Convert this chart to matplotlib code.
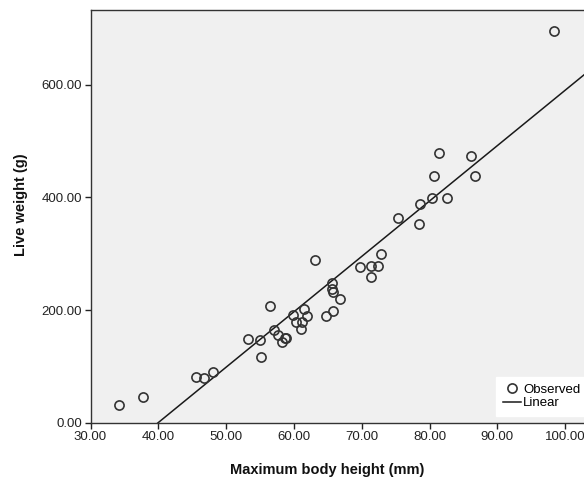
import matplotlib
matplotlib.use("Agg")
import matplotlib.pyplot as plt
import numpy as np

plt.rcParams['font.family'] = ['Liberation Sans', 'DejaVu Sans']

# Data
body_height = [34.2, 37.7, 45.6, 46.7, 48.1, 53.3, 55.0, 55.1, 56.5, 57.1,
               57.7, 58.3, 58.7, 58.9, 59.8, 60.3, 61.15, 61.5, 62.0, 61.1,
               64.7, 65.7, 66.8, 65.6, 65.6, 65.7, 63.1, 69.7, 71.3, 72.4,
               72.8, 71.3, 75.4, 78.45, 78.6, 80.3, 82.6, 80.6, 81.4, 86.1,
               86.7, 98.4]
live_weight = [31, 46, 82, 80, 90, 149, 146, 117, 208, 165,
               156, 144, 151, 150, 191, 179, 179, 201, 189, 166,
               189, 199, 219, 248, 238, 232, 289, 276, 278, 278,
               299, 259, 363, 353, 388, 398, 398, 438, 478, 473,
               438, 696]
fit_slope = 9.83
fit_intercept = -393.0
x_ticks = [30, 40, 50, 60, 70, 80, 90, 100]
y_ticks = [0, 200, 400, 600]

fig = plt.figure(figsize=(5.84, 4.80), dpi=100)
W, H = 584, 480
left_px, bottom_px, top_px = 90.5, 422.7, 10
xlim = (30, 105)
ylim = (0, 732.5)
width_px = (xlim[1] - xlim[0]) * 6.78
ax = fig.add_axes([left_px / W, (H - bottom_px) / H, width_px / W, (bottom_px - top_px) / H])
ax.set_facecolor('#f0f0f0')

xs = np.array(xlim)
ax.plot(xs, fit_intercept + fit_slope * xs, color='#1a1a1a', lw=1.1, label='Linear', zorder=2)
ax.plot(body_height, live_weight, linestyle='none', marker='o', markersize=6.6,
        markerfacecolor='none', markeredgecolor='#333333', markeredgewidth=1.2,
        label='Observed', zorder=3)

ax.set_xlim(*xlim)
ax.set_ylim(*ylim)
ax.set_xticks(x_ticks)
ax.set_yticks(y_ticks)
ax.set_xticklabels([f"{v:.2f}" for v in x_ticks])
ax.set_yticklabels([f"{v:.2f}" for v in y_ticks])
ax.tick_params(direction='out', length=4, width=1, color='#222222',
               labelsize=9.5, labelcolor='#222222', pad=2)
for s in ax.spines.values():
    s.set_color('#333333')
    s.set_linewidth(1.0)

fig.text(327 / W, 1 - 470 / H, 'Maximum body height (mm)', ha='center', va='center',
         fontsize=10.5, fontweight='bold', color='#111111')
fig.text(21.5 / W, 1 - 205 / H, 'Live weight (g)', ha='center', va='center',
         rotation=90, fontsize=10.5, fontweight='bold', color='#111111')

handles, labels = ax.get_legend_handles_labels()
leg = ax.legend(handles[::-1], labels[::-1], loc='lower right',
                bbox_to_anchor=(587 / W, 1 - 416 / H), bbox_transform=fig.transFigure,
                frameon=True, fancybox=False, fontsize=9.5, handlelength=1.4,
                handletextpad=0.15, labelspacing=0.1, borderpad=0.5, borderaxespad=0)
leg.get_frame().set_facecolor('white')
leg.get_frame().set_edgecolor('white')
leg.get_frame().set_alpha(1)

fig.savefig('out.png', dpi=100)
